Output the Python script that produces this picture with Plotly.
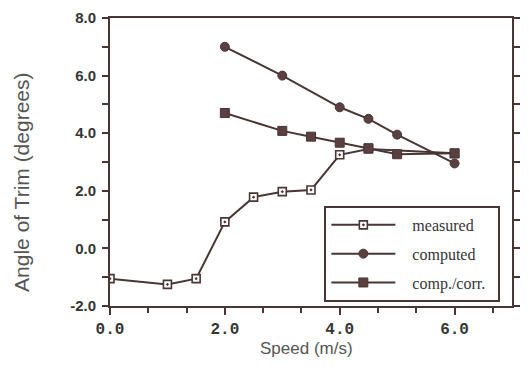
import plotly.graph_objects as go

# ---- data ----
x_measured = [0.0, 1.0, 1.5, 2.0, 2.5, 3.0, 3.5, 4.0, 4.5, 6.0]
y_measured = [-1.05, -1.25, -1.05, 0.92, 1.78, 1.97, 2.03, 3.25, 3.45, 3.3]

x_computed = [2.0, 3.0, 4.0, 4.5, 5.0, 6.0]
y_computed = [7.0, 6.0, 4.9, 4.5, 3.95, 2.95]

x_corr = [2.0, 3.0, 3.5, 4.0, 4.5, 5.0, 6.0]
y_corr = [4.7, 4.08, 3.88, 3.67, 3.48, 3.27, 3.3]

x_ticks = [0, 2, 4, 6]
x_tick_labels = ["0.0", "2.0", "4.0", "6.0"]
y_ticks = [-2, 0, 2, 4, 6, 8]
y_tick_labels = ["-2.0", "0.0", "2.0", "4.0", "6.0", "8.0"]
x_minor = [i * 2 / 3 for i in range(11) if i % 3 != 0]
y_minor = [v for v in range(-2, 9) if v % 2 != 0]

series_names = ["measured", "computed", "comp./corr."]

INK = "#4a3535"
TXT = "#353535"
LEAD = "\u00a0" * 3
TRAIL = "\u00a0" * 2

fig = go.Figure()

fig.add_trace(go.Scatter(
    x=x_measured, y=y_measured, name=LEAD + series_names[0] + TRAIL, mode="lines+markers",
    legendgroup="a",
    line=dict(color=INK, width=2),
    marker=dict(symbol="square-dot", size=8, color="white",
                line=dict(color=INK, width=1.6)),
))
fig.add_trace(go.Scatter(
    x=x_computed, y=y_computed, name=LEAD + series_names[1] + TRAIL, mode="lines+markers",
    legendgroup="b",
    line=dict(color=INK, width=2),
    marker=dict(symbol="circle", size=9, color="#5a4040",
                line=dict(color=INK, width=1)),
))
fig.add_trace(go.Scatter(
    x=x_corr, y=y_corr, name=LEAD + series_names[2] + TRAIL, mode="lines+markers",
    legendgroup="c",
    line=dict(color=INK, width=2),
    marker=dict(symbol="square", size=9, color="#5a4040",
                line=dict(color=INK, width=1)),
))

fig.update_layout(
    width=529, height=371,
    margin=dict(l=110, r=9, t=18, b=65),
    paper_bgcolor="white", plot_bgcolor="white",
    showlegend=True,
    legend=dict(
        x=0.971, xanchor="right", y=0.014, yanchor="bottom",
        bgcolor="white", bordercolor=INK, borderwidth=2,
        font=dict(family="Liberation Serif", size=16, color=TXT),
        itemwidth=64, tracegroupgap=5,
    ),
    xaxis=dict(
        range=[0, 7], tickmode="array", tickvals=x_ticks, ticktext=x_tick_labels,
        ticks="outside", ticklen=7, tickwidth=2, tickcolor=INK,
        minor=dict(tickmode="array", tickvals=x_minor, ticks="outside",
                   ticklen=5, tickwidth=2, tickcolor=INK),
        showline=True, linecolor=INK, linewidth=2, mirror=True,
        showgrid=False, zeroline=False,
        tickfont=dict(family="Liberation Mono", size=16, color=TXT, weight="bold"),
    ),
    yaxis=dict(
        range=[-2, 8], tickmode="array", tickvals=y_ticks, ticktext=y_tick_labels,
        ticks="outside", ticklen=6, tickwidth=2, tickcolor=INK,
        minor=dict(tickmode="array", tickvals=y_minor, ticks="outside",
                   ticklen=6, tickwidth=2, tickcolor=INK),
        showline=True, linecolor=INK, linewidth=2, mirror="ticks",
        showgrid=False, zeroline=False, ticklabelstandoff=3,
        tickfont=dict(family="Liberation Sans", size=15, color=TXT, weight="bold"),
    ),
    annotations=[
        dict(text="Speed (m/s)", xref="paper", yref="paper", x=0.49, y=-0.146,
             xanchor="center", yanchor="middle", showarrow=False,
             font=dict(family="Liberation Sans", size=17, color="#555555")),
        dict(text="Angle of Trim (degrees)", xref="paper", yref="paper",
             x=-0.222, y=0.43, xanchor="center", yanchor="middle",
             textangle=-90, showarrow=False,
             font=dict(family="Liberation Sans", size=21, color="#555555")),
    ],
)

fig.write_html("out.html", config={"displayModeBar": False},
               post_script="document.body.style.margin='0';")
